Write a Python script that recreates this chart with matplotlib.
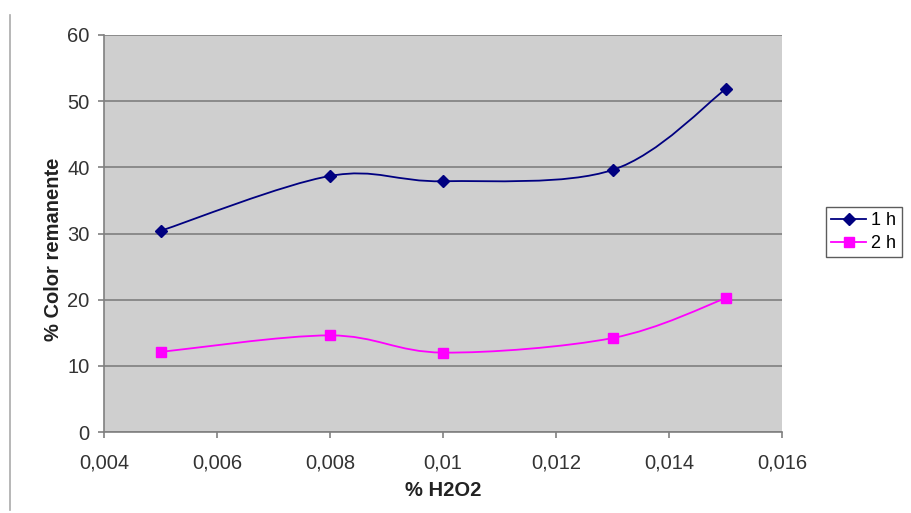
import matplotlib
matplotlib.use("Agg")
import matplotlib.pyplot as plt
from matplotlib.path import Path
from matplotlib.patches import PathPatch
from matplotlib.lines import Line2D
import numpy as np

plt.rcParams['font.family'] = ['Liberation Sans', 'DejaVu Sans']

h2o2 = [0.005, 0.008, 0.010, 0.013, 0.015]
serie_1h = [30.4, 38.7, 37.9, 39.6, 51.8]
serie_2h = [12.1, 14.6, 12.0, 14.2, 20.2]
xticks = [0.004, 0.006, 0.008, 0.010, 0.012, 0.014, 0.016]
xtick_labels = ["0,004", "0,006", "0,008", "0,01", "0,012", "0,014", "0,016"]
yticks = [0, 10, 20, 30, 40, 50, 60]

fig = plt.figure(figsize=(9.12, 5.13), dpi=100)
ax = fig.add_axes([104/912, 1-432/513, (782-104)/912, (432-35)/513])
ax.set_facecolor('#cfcfcf')

def smooth_path(xs, ys):
    pts = np.column_stack([xs, ys])
    verts = [pts[0]]
    codes = [Path.MOVETO]
    n = len(pts)
    for i in range(n-1):
        p0 = pts[max(i-1, 0)]
        p1 = pts[i]
        p2 = pts[i+1]
        p3 = pts[min(i+2, n-1)]
        c1 = p1 + (p2 - p0) / 6.0
        c2 = p2 - (p3 - p1) / 6.0
        verts += [c1, c2, p2]
        codes += [Path.CURVE4]*3
    return Path(verts, codes)

for ys, col, mk, ms in [(serie_1h, '#000080', 'D', 6), (serie_2h, '#ff00ff', 's', 7)]:
    ax.add_patch(PathPatch(smooth_path(h2o2, ys), facecolor='none', edgecolor=col, lw=1.3, zorder=3))
    ax.plot(h2o2, ys, linestyle='none', marker=mk, color=col, markersize=ms, zorder=4)

ax.set_xlim(0.004, 0.016)
ax.set_ylim(0, 60)
ax.set_xticks(xticks)
ax.set_xticklabels(xtick_labels)
ax.set_yticks(yticks)
ax.yaxis.grid(True, color='#7f7f7f', lw=1.2)
ax.set_axisbelow(True)
for s in ['top', 'right']:
    ax.spines[s].set_visible(False)
for s in ['left', 'bottom']:
    ax.spines[s].set_color('#808080')
    ax.spines[s].set_linewidth(1.2)
ax.tick_params(axis='both', direction='out', length=4.5, color='#808080', labelsize=14.5, labelcolor='#333333', width=1.2)
ax.tick_params(axis='x', pad=11)
ax.tick_params(axis='y', pad=6)
ax.set_xlabel('% H2O2', fontsize=14.5, fontweight='bold', color='#222222', labelpad=6)
ax.set_ylabel('% Color remanente', fontsize=14.5, fontweight='bold', color='#222222', labelpad=2)
ax.yaxis.set_label_coords(-0.061, 0.46)

handles = [Line2D([], [], color='#000080', marker='D', markersize=6, lw=1.3),
           Line2D([], [], color='#ff00ff', marker='s', markersize=7, lw=1.3)]
leg = fig.legend(handles, ['1 h', '2 h'], loc='upper left', bbox_to_anchor=(826/912, 1-207/513),
                 frameon=True, fancybox=False, edgecolor='#333333', fontsize=13,
                 handlelength=1.9, handletextpad=0.3, borderpad=0.3, labelspacing=0.3, borderaxespad=0)
leg.get_frame().set_linewidth(1.0)

fig.add_artist(Line2D([10/912, 10/912], [1-15/513, 1-510/513], color='#aaaaaa', lw=1.2))

fig.savefig('out.png', dpi=100)
